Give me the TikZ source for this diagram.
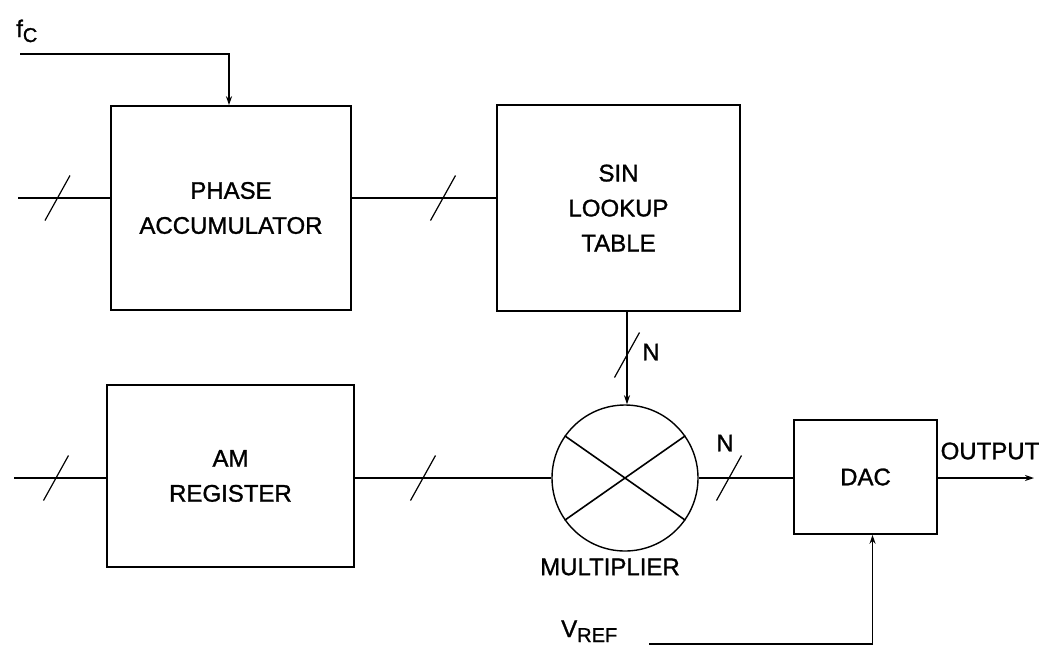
\documentclass[tikz,border=0pt]{standalone}
\usepackage{fontspec}
\setmainfont{Liberation Sans}
\newfontfamily\dfont{Liberation Sans}[FakeBold=1.2]
\usetikzlibrary{arrows.meta,calc}
\tikzset{
  blk/.style={draw, line width=1.6pt, rectangle, inner sep=0pt, align=center,
    font=\dfont\fontsize{24}{35}\selectfont},
  mulc/.style={draw, line width=1.4pt, circle, minimum size=146pt, inner sep=0pt},
  wire/.style={line width=1.6pt},
  arr/.style={line width=1.6pt, -{Stealth[length=9pt,width=6pt]}},
  bus/.style={line width=1.2pt},
  lbl/.style={font=\dfont\fontsize{24}{28}\selectfont, inner sep=0pt}
}
\begin{document}
\begin{tikzpicture}[x=1pt,y=-1pt]
\useasboundingbox (0,0) rectangle (1043,649);
% blocks
\node[blk, minimum width=240pt, minimum height=204pt] (phase) at (231,208) {PHASE\\ACCUMULATOR};
\node[blk, minimum width=243pt, minimum height=206pt] (sin) at (618.5,208) {SIN\\LOOKUP\\TABLE};
\node[blk, minimum width=247pt, minimum height=182pt] (am) at (230.5,476) {AM\\REGISTER};
\node[blk, minimum width=143pt, minimum height=114pt] (dac) at (865.5,477) {DAC};
\node[mulc] (mult) at (625,478) {};
\draw[wire] (mult.35) -- (mult.215);
\draw[wire] (mult.145) -- (mult.325);
% coordinates
\coordinate (fc) at (20,54);
\coordinate (inP) at (18,198);
\coordinate (ps) at (400,198);
\coordinate (inA) at (14,478);
\coordinate (vr) at (649,644);
\coordinate (out) at (1034,478);
% connectors
\draw[arr] (fc) -| ([xshift=-2pt]phase.north);
\draw[wire] (inP) -- (inP -| phase.west);
\draw[wire] (ps -| phase.east) -- (ps -| sin.west);
\draw[arr] ([xshift=2pt]mult.north |- sin.south) -- ([xshift=2pt]mult.north);
\draw[wire] (inA) -- (inA -| am.west);
\draw[wire] (am.east |- mult.west) -- (mult.west);
\draw[wire] (mult.east) -- (mult.east -| dac.west);
\draw[arr] (dac.east |- out) -- (out);
\draw[arr] (vr) -| ([xshift=7pt]dac.south);
% bus slashes
\foreach \c in {(57.5,198),(443,198),(627,355),(56,478),(423,478),(729,478)}{
  \draw[bus] \c ++(-12.5,22.5) -- ++(25,-45);
}
% labels
\node[lbl, anchor=center] (n1) at (651,352) {N};
\node[lbl, anchor=center] (n2) at (725,443) {N};
\node[lbl, anchor=center] (outl) at (990,451) {OUTPUT};
\node[lbl, anchor=center] (multl) at (610,567) {MULTIPLIER};
\node[lbl, anchor=base west] (fcl) at (16,37) {f\raisebox{-5pt}{\fontsize{20}{20}\selectfont C}};
\node[lbl, anchor=base west] (vrl) at (561,637) {V\raisebox{-5pt}{\fontsize{20}{20}\selectfont REF}};
\end{tikzpicture}
\end{document}
